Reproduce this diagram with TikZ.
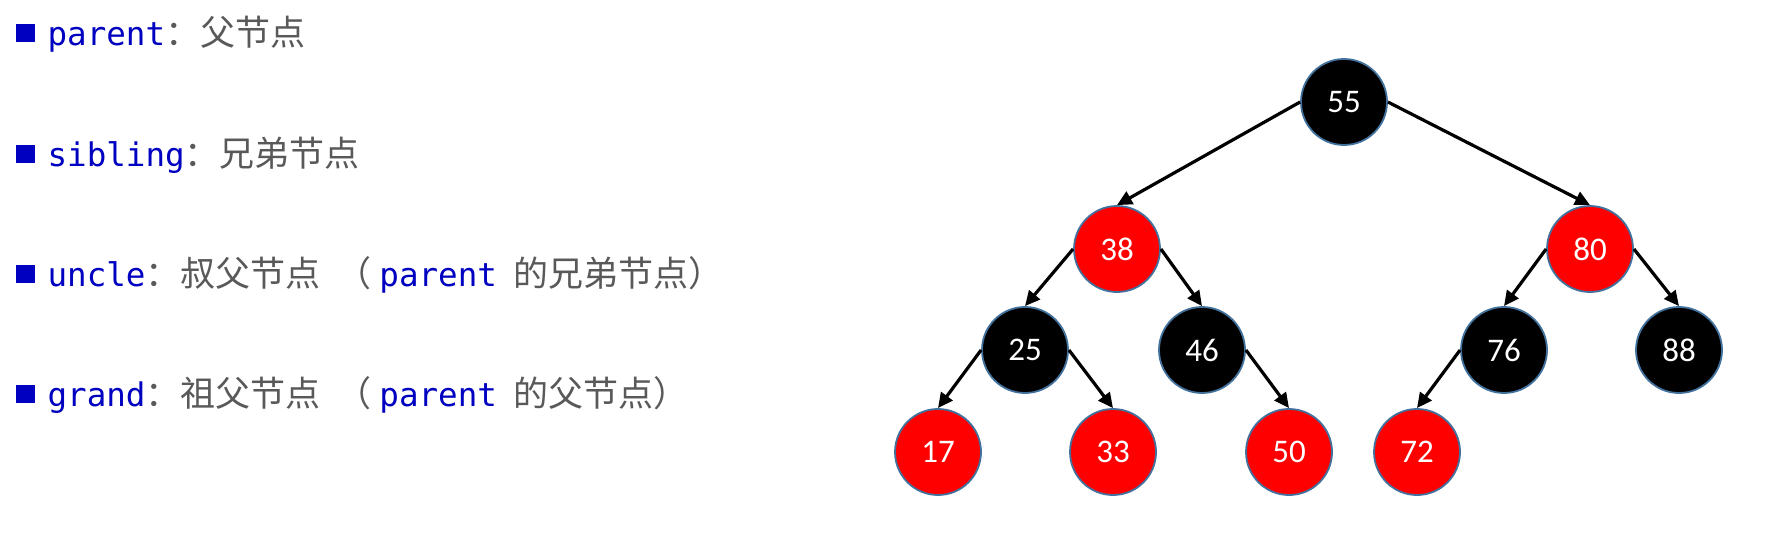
\documentclass[tikz,border=0pt]{standalone}
\usepackage{fontspec}
\setmainfont{Noto Sans CJK SC}
\setmonofont[Scale=0.93]{DejaVu Sans Mono}
\newfontfamily\numfont{Carlito}
\usetikzlibrary{arrows.meta}
\definecolor{keyblue}{RGB}{0,0,192}
\definecolor{textgray}{RGB}{89,89,89}
\definecolor{rimblue}{RGB}{65,113,156}
\newcommand\keyword[1]{\textcolor{keyblue}{\texttt{#1}}}
\newcommand\bulletsq{{\color{keyblue}\rule[3pt]{19pt}{18pt}}\hspace{13pt}}
\tikzset{
  rbnode/.style={draw=rimblue,line width=1.8pt,shape=circle,minimum size=86pt,inner sep=0pt,
    text=white,font=\numfont\fontsize{33}{33}\selectfont},
  red node/.style={rbnode,fill=red},
  black node/.style={rbnode,fill=black},
  item/.style={anchor=base west,inner sep=0pt,text=textgray,font=\fontsize{35}{35}\selectfont}
}
\begin{document}
\begin{tikzpicture}[x=1pt,y=-1pt,line width=3.2pt,>={Triangle[length=15pt,width=14pt]}]
  \useasboundingbox (0,0) rectangle (1774,542);

     \path (14,45) node[item] (parent) {\bulletsq\keyword{parent}：父节点};
     \path (14,166) node[item] (sibling) {\bulletsq\keyword{sibling}：兄弟节点};
     \path (14,286) node[item] (uncle) {\bulletsq\keyword{uncle}：叔父节点\hspace{16pt}（ \keyword{parent}\hspace{9pt} 的兄弟节点）};
     \path (14,406) node[item] (grand) {\bulletsq\keyword{grand}：祖父节点\hspace{16pt}（ \keyword{parent}\hspace{9pt} 的父节点）};

     \path (1344,102) node[black node] (55) {55};
     \path (1117,249) node[red node] (38) {38};
     \path (1590,249) node[red node] (80) {80};
     \path (1025,350) node[black node] (25) {25};
     \path (1202,350) node[black node] (46) {46};
     \path (1504,350) node[black node] (76) {76};
     \path (1679,350) node[black node] (88) {88};
     \path (938,452) node[red node] (17) {17};
     \path (1113,452) node[red node] (33) {33};
     \path (1289,452) node[red node] (50) {50};
     \path (1417,452) node[red node] (72) {72};

      \draw[->] (55.west) -- (38.north);
      \draw[->] (55.east) -- (80.north);
      \draw[->] (38.west) -- (25.north);
      \draw[->] (38.east) -- (46.north);
      \draw[->] (80.west) -- (76.north);
      \draw[->] (80.east) -- (88.north);
      \draw[->] (25.west) -- (17.north);
      \draw[->] (25.east) -- (33.north);
      \draw[->] (46.east) -- (50.north);
      \draw[->] (76.west) -- (72.north);

\end{tikzpicture}
\end{document}
